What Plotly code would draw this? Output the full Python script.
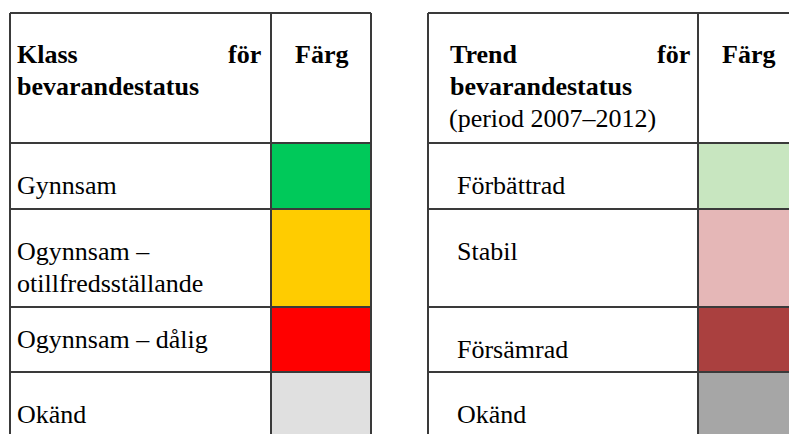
import plotly.graph_objects as go

# ---- data ----
left_header_words = ["Klass", "för", "bevarandestatus"]
right_header_words = ["Trend", "för", "bevarandestatus", "(period 2007–2012)"]
color_header = "Färg"
left_labels = ["Gynnsam", "Ogynnsam –\notillfredsställande", "Ogynnsam – dålig", "Okänd"]
left_colors = ["#00C95A", "#FFCC00", "#FF0000", "#E0E0E0"]
right_labels = ["Förbättrad", "Stabil", "Försämrad", "Okänd"]
right_colors = ["#C8E6C0", "#E5B7B7", "#AA403F", "#A6A6A6"]

# ---- layout geometry (pixels) ----
W, H = 789, 434
FONT = "Liberation Serif, Times New Roman, serif"
FS = 26
LINE = "#3a3a3a"
row_y = [13, 143, 209, 307, 372, 440]
left_x = [10, 271, 371]
right_x = [428, 698, 798]
left_base = [[194], [260, 292], [348], [423]]
right_base = [[194], [260], [358], [423]]
PAD = 2  # annotation internal padding compensation

def mid(b):
    return b - 9

shapes = []
ann = []

def add_table(xs, colors):
    x0, xd, x1 = xs
    for i, c in enumerate(colors):
        shapes.append(dict(type="rect", x0=xd, x1=x1, y0=row_y[i + 1], y1=row_y[i + 2],
                           fillcolor=c, line=dict(width=0), layer="below"))
    for y in row_y:
        shapes.append(dict(type="line", x0=x0, x1=x1, y0=y, y1=y, line=dict(color=LINE, width=2)))
    for x in xs:
        shapes.append(dict(type="line", x0=x, x1=x, y0=row_y[0], y1=row_y[-1], line=dict(color=LINE, width=2)))

add_table(left_x, left_colors)
add_table(right_x, right_colors)

def text(x, base, s, anchor="left", bold=False):
    if anchor == "left":
        x -= PAD
    elif anchor == "right":
        x += PAD
    ann.append(dict(x=x, y=mid(base), text=("<b>%s</b>" % s) if bold else s, showarrow=False,
                    xanchor=anchor, yanchor="middle", xref="x", yref="y",
                    font=dict(family=FONT, size=FS, color="#000000")))

# headers
text(17, 63, left_header_words[0], bold=True)
text(261, 63, left_header_words[1], anchor="right", bold=True)
text(17, 95, left_header_words[2], bold=True)
text((left_x[1] + left_x[2]) / 2, 63, color_header, anchor="center", bold=True)

text(450, 63, right_header_words[0], bold=True)
text(690, 63, right_header_words[1], anchor="right", bold=True)
text(450, 95, right_header_words[2], bold=True)
text(449, 127, right_header_words[3])
text((right_x[1] + right_x[2]) / 2, 63, color_header, anchor="center", bold=True)

# body
for lab, bases in zip(left_labels, left_base):
    for line, b in zip(lab.split("\n"), bases):
        text(17, b, line)
for lab, bases in zip(right_labels, right_base):
    for line, b in zip(lab.split("\n"), bases):
        text(457, b, line)

fig = go.Figure()
fig.update_layout(
    width=W, height=H, margin=dict(l=0, r=0, t=0, b=0),
    paper_bgcolor="white", plot_bgcolor="white",
    xaxis=dict(range=[0, W], visible=False, fixedrange=True),
    yaxis=dict(range=[H, 0], visible=False, fixedrange=True),
    shapes=shapes, annotations=ann, showlegend=False,
)
fig.write_html("out.html", config={"displayModeBar": False},
               post_script="document.body.style.margin='0';document.body.style.overflow='hidden';")
